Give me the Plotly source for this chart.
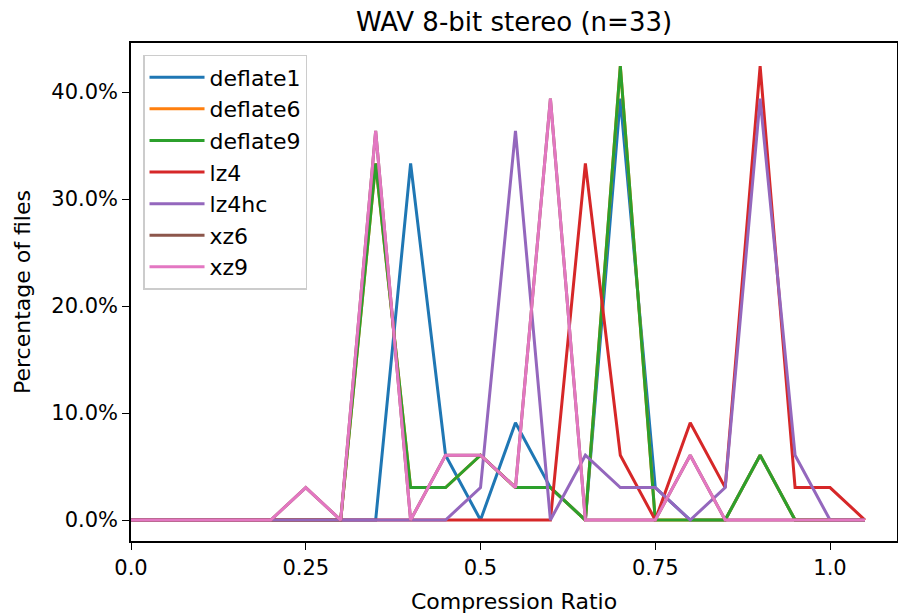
import plotly.graph_objects as go

ratios = [0.0, 0.05, 0.1, 0.15, 0.2, 0.25, 0.3, 0.35, 0.4, 0.45, 0.5,
          0.55, 0.6, 0.65, 0.7, 0.75, 0.8, 0.85, 0.9, 0.95, 1.0, 1.05]

deflate1 = [0, 0, 0, 0, 0, 0, 0, 0, 33.33, 6.06, 0, 9.09, 3.03, 0, 39.39, 3.03, 0, 0, 6.06, 0, 0, 0]
deflate6 = [0, 0, 0, 0, 0, 0, 0, 33.33, 3.03, 3.03, 6.06, 3.03, 3.03, 0, 42.42, 0, 0, 0, 6.06, 0, 0, 0]
deflate9 = [0, 0, 0, 0, 0, 0, 0, 33.33, 3.03, 3.03, 6.06, 3.03, 3.03, 0, 42.42, 0, 0, 0, 6.06, 0, 0, 0]
lz4 = [0, 0, 0, 0, 0, 0, 0, 0, 0, 0, 0, 0, 0, 33.33, 6.06, 0, 9.09, 3.03, 42.42, 3.03, 3.03, 0]
lz4hc = [0, 0, 0, 0, 0, 0, 0, 0, 0, 0, 3.03, 36.36, 0, 6.06, 3.03, 3.03, 0, 3.03, 39.39, 6.06, 0, 0]
xz6 = [0, 0, 0, 0, 0, 3.03, 0, 36.36, 0, 6.06, 6.06, 3.03, 39.39, 0, 0, 0, 6.06, 0, 0, 0, 0, 0]
xz9 = [0, 0, 0, 0, 0, 3.03, 0, 36.36, 0, 6.06, 6.06, 3.03, 39.39, 0, 0, 0, 6.06, 0, 0, 0, 0, 0]

series = [
    ("deflate1", deflate1, "#1f77b4"),
    ("deflate6", deflate6, "#ff7f0e"),
    ("deflate9", deflate9, "#2ca02c"),
    ("lz4", lz4, "#d62728"),
    ("lz4hc", lz4hc, "#9467bd"),
    ("xz6", xz6, "#8c564b"),
    ("xz9", xz9, "#e377c2"),
]

x_tickvals = [0.0, 0.25, 0.5, 0.75, 1.0]
x_ticktext = ["0.0", "0.25", "0.5", "0.75", "1.0"]
y_tickvals = [0, 10, 20, 30, 40]
y_ticktext = ["0.0%", "10.0%", "20.0%", "30.0%", "40.0%"]

fig = go.Figure()
for name, vals, color in series:
    fig.add_trace(go.Scatter(x=ratios, y=vals, mode="lines", name=name,
                             line=dict(color=color, width=3)))

font = "DejaVu Sans, sans-serif"
fig.update_layout(
    width=898, height=616,
    margin=dict(l=131, r=1, t=43, b=75),
    paper_bgcolor="white", plot_bgcolor="white",
    font=dict(family=font, size=21, color="black"),
    title=dict(text="WAV 8-bit stereo (n=33)", x=0.5, xref="paper",
               y=0.9643, yref="container", xanchor="center", yanchor="middle",
               font=dict(size=26, family=font)),
    showlegend=True,
    legend=dict(x=0.0157, y=0.976, xanchor="left", yanchor="top",
                bgcolor="rgba(255,255,255,0.8)", bordercolor="#cccccc", borderwidth=1.5,
                itemwidth=55,
                font=dict(size=22, family=font)),
    xaxis=dict(range=[0, 1.0958], tickvals=x_tickvals, ticktext=x_ticktext,
               showgrid=False, zeroline=False, showline=True, linecolor="black",
               linewidth=1.5, mirror=True, ticks="outside", ticklen=7, tickwidth=1.3,
               tickcolor="black", automargin=False,
               title=dict(text="Compression Ratio", font=dict(size=22))),
    yaxis=dict(range=[-1.96, 44.58], tickvals=y_tickvals, ticktext=y_ticktext,
               showgrid=False, zeroline=False, showline=True, linecolor="black",
               linewidth=1.5, mirror=True, ticks="outside", ticklen=7, tickwidth=1.3,
               tickcolor="black", automargin=False,
               title=dict(text="Percentage of files", font=dict(size=22))),
)

fig.write_html("out.html", config={"displayModeBar": False},
               post_script="document.body.style.margin='0';")
